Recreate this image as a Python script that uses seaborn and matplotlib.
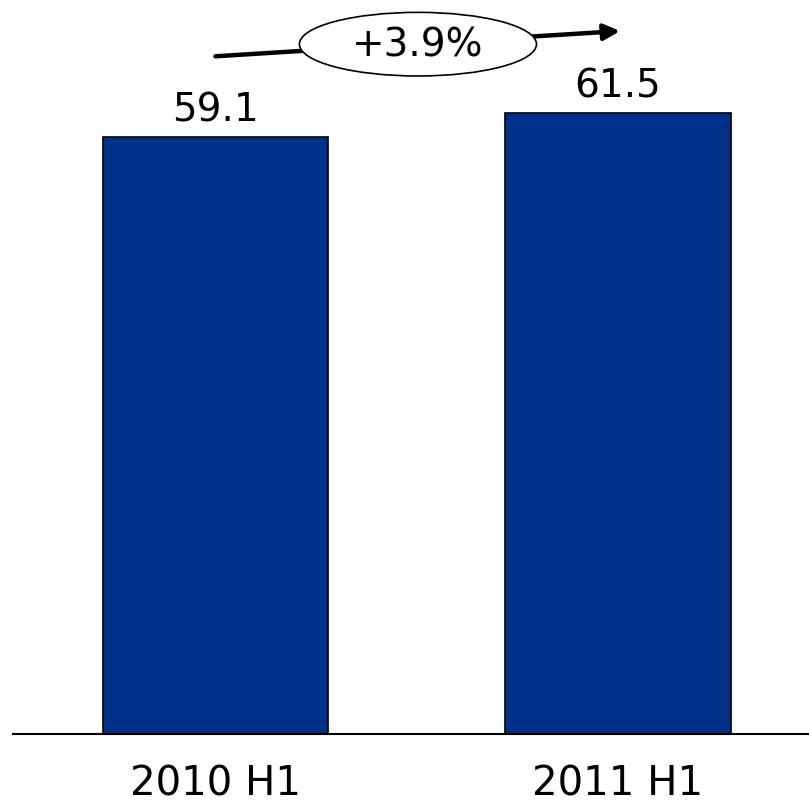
import matplotlib
matplotlib.use("Agg")
import matplotlib.pyplot as plt
from matplotlib.patches import Ellipse
import seaborn as sns
import pandas as pd

categories = ["2010 H1", "2011 H1"]
values = [59.1, 61.5]
value_labels = ["59.1", "61.5"]
growth_label = "+3.9%"

sns.set_theme(style="white")
plt.rcParams['font.family'] = ['DejaVu Sans']

fig = plt.figure(figsize=(8.09, 8.04), dpi=100)
W, H = 809, 804
base = 735
ax = fig.add_axes([13 / W, 1 - base / H, 796 / W, base / H])

df = pd.DataFrame({"cat": categories, "val": values})
sns.barplot(data=df, x="cat", y="val", ax=ax, color="#003087", saturation=1,
            width=0.559, edgecolor="black", linewidth=1.2)

ax.set_xlim(-0.503, 1.4745)
ax.set_ylim(0, base / 10.1)
for s in ["top", "right", "left"]:
    ax.spines[s].set_visible(False)
ax.spines["bottom"].set_color("black")
ax.spines["bottom"].set_linewidth(1.5)
ax.set_yticks([])
ax.set_xlabel("")
ax.set_ylabel("")
ax.tick_params(axis="x", length=0, pad=21, labelsize=29, colors="black")

for i, (v, lab) in enumerate(zip(values, value_labels)):
    ax.text(i, v + 1.6, lab, ha="center", va="baseline", fontsize=28, color="black")

# growth arrow
ax.annotate("", xy=(1.005, 69.6), xytext=(0.0, 67.1),
            arrowprops=dict(arrowstyle="-|>", color="black", lw=3.2,
                            mutation_scale=24, shrinkA=0, shrinkB=0),
            annotation_clip=False)
ell = Ellipse((0.503, 68.3), 0.589, 6.3, facecolor="white", edgecolor="black",
              lw=1.2, zorder=5, clip_on=False)
ax.add_patch(ell)
ax.text(0.503, 68.3, growth_label, ha="center", va="center", fontsize=28,
        color="black", zorder=6)

fig.savefig("out.png", dpi=100)
